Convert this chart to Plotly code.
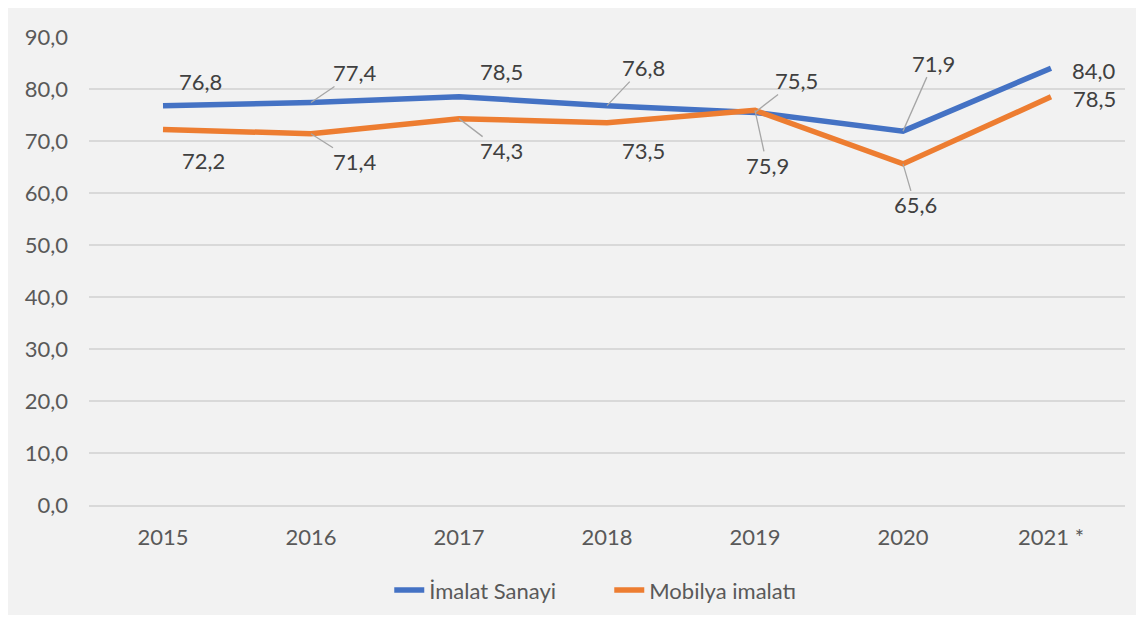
import plotly.graph_objects as go

categories = ["2015", "2016", "2017", "2018", "2019", "2020", "2021 *"]
imalat_sanayi = [76.8, 77.4, 78.5, 76.8, 75.5, 71.9, 84.0]
mobilya_imalati = [72.2, 71.4, 74.3, 73.5, 75.9, 65.6, 78.5]
y_ticks = [0, 10, 20, 30, 40, 50, 60, 70, 80, 90]

# label placement (pixel offsets of the label centre from its point) and leader visibility
blue_offsets = [(37, -24), (44, -30), (42, -25), (36, -38), (41, -32), (30, -68), (43, 2)]
blue_leader = [False, True, False, True, True, True, False]
orange_offsets = [(40, 31), (44, 28), (42, 32), (36, 28), (12, 55), (12, 41), (43, 2)]
orange_leader = [False, True, True, False, True, True, False]

BLUE = "#4472c4"
ORANGE = "#ed7d31"
FONT = "Lato"
FS = 22

def fmt(v):
    return f"{v:.1f}".replace(".", ",")

fig = go.Figure()
fig.add_trace(go.Scatter(x=categories, y=imalat_sanayi, mode="lines", name="İmalat Sanayi",
                         line=dict(color=BLUE, width=5.5)))
fig.add_trace(go.Scatter(x=categories, y=mobilya_imalati, mode="lines", name="Mobilya imalatı",
                         line=dict(color=ORANGE, width=5.5)))

annotations = []
for vals, offs, leads in [(imalat_sanayi, blue_offsets, blue_leader),
                          (mobilya_imalati, orange_offsets, orange_leader)]:
    for i, (v, (ax, ay), lead) in enumerate(zip(vals, offs, leads)):
        annotations.append(dict(
            x=i, y=v, xref="x", yref="y", text=fmt(v), showarrow=True,
            ax=ax, ay=ay, arrowhead=0, arrowwidth=1.3,
            arrowcolor="#a6a6a6" if lead else "rgba(0,0,0,0)",
            font=dict(family=FONT, size=FS, color="#404040"),
            borderpad=0, standoff=0,
        ))

fig.update_layout(
    width=1128, height=607,
    margin=dict(l=81, r=11, t=29, b=110),
    paper_bgcolor="#f2f2f2", plot_bgcolor="#f2f2f2",
    separators=",.",
    font=dict(family=FONT, size=FS, color="#595959"),
    showlegend=True,
    legend=dict(orientation="h", xref="container", yref="container",
                x=0.338, xanchor="left", y=0.041, yanchor="middle",
                entrywidth=175, entrywidthmode="pixels",
                font=dict(family=FONT, size=FS, color="#595959"),
                bgcolor="rgba(0,0,0,0)", traceorder="normal"),
    annotations=annotations,
)
fig.update_xaxes(type="category", categoryorder="array", categoryarray=categories,
                 range=[-0.5, len(categories) - 0.5], showgrid=False, zeroline=False,
                 showline=True, linecolor="#d9d9d9", linewidth=1.5, ticks="",
                 ticklabelstandoff=12, automargin=False,
                 tickfont=dict(family=FONT, size=FS, color="#595959"))
fig.update_yaxes(range=[0, 90], tickvals=y_ticks, tickformat=".1f", showgrid=True,
                 gridcolor="#d9d9d9", gridwidth=1.5, zeroline=False, showline=False, ticks="",
                 ticklabelstandoff=20, automargin=False,
                 tickfont=dict(family=FONT, size=FS, color="#595959"))

fig.write_html("out.html")
